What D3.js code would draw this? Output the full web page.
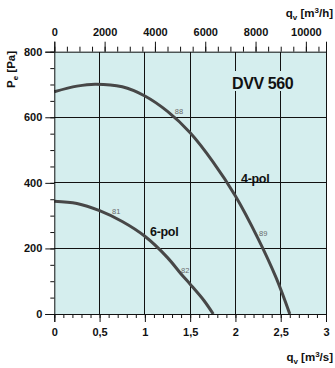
<!DOCTYPE html>
<html>
<head>
<meta charset="utf-8">
<script src="https://cdn.jsdelivr.net/npm/d3@7"></script>
<style>
  html, body { margin: 0; padding: 0; background: #ffffff; }
  svg { display: block; }
  text { font-family: "Liberation Sans", Arial, sans-serif; }
</style>
</head>
<body>
<svg id="chart" width="335" height="368"></svg>
<script>
// Fan curves: flow q [m³/s] vs. static pressure Pe [Pa]
const flow4pol = [0, 0.25, 0.45, 0.75, 1.0, 1.25, 1.5, 1.75, 2.0, 2.25, 2.45, 2.6];
const pres4pol = [678, 695, 701, 693, 665, 618, 553, 465, 360, 230, 110, 0];
const flow6pol = [0, 0.25, 0.5, 0.75, 1.0, 1.25, 1.4, 1.5, 1.65, 1.755];
const pres6pol = [344, 337, 315, 282, 237, 172, 122, 91, 42, 0];

// Efficiency markers along the curves
const markLabels = ["88", "89", "81", "82"];
const markFlow   = [1.33, 2.26, 0.637, 1.40];
const markPres   = [609, 238, 305, 125];

// Axis ticks
const bottomTicks = [0, 0.5, 1, 1.5, 2, 2.5, 3];
const bottomTickLabels = ["0", "0,5", "1", "1,5", "2", "2,5", "3"];
const leftTicks = [0, 200, 400, 600, 800];
const topTicks = [0, 2000, 4000, 6000, 8000, 10000];

const svg = d3.select("#chart");
const plotL = 54.3, plotR = 326, plotT = 51.7, plotB = 314;

const x = d3.scaleLinear().domain([0, 3]).range([plotL, plotR]);
const y = d3.scaleLinear().domain([0, 800]).range([plotB, plotT]);
const xh = d3.scaleLinear().domain([0, 3 * 3600]).range([plotL, plotR]);

const bg = "#d5eeee";
const ink = "#111";

// plot background
svg.append("rect")
  .attr("x", plotL).attr("y", plotT)
  .attr("width", plotR - plotL).attr("height", plotB - plotT)
  .attr("fill", bg);

// grid
const grid = svg.append("g").attr("stroke", ink).attr("stroke-width", 1).attr("shape-rendering", "crispEdges");
grid.selectAll("line.v").data(bottomTicks.filter(d => d > 0)).join("line")
  .attr("x1", d => x(d)).attr("x2", d => x(d))
  .attr("y1", plotT).attr("y2", plotB);
grid.selectAll("line.h").data(leftTicks.filter(d => d > 0 && d < 800)).join("line")
  .attr("x1", plotL).attr("x2", plotR)
  .attr("y1", d => y(d)).attr("y2", d => y(d));

// fan curves
const line = d3.line().x(d => x(d[0])).y(d => y(d[1])).curve(d3.curveCatmullRom.alpha(0.5));
const curve4 = flow4pol.map((q, i) => [q, pres4pol[i]]);
const curve6 = flow6pol.map((q, i) => [q, pres6pol[i]]);
const curveG = svg.append("g").attr("fill", "none").attr("stroke", "#474747").attr("stroke-width", 3);
curveG.append("path").attr("d", line(curve4));
curveG.append("path").attr("d", line(curve6));

// efficiency numbers
svg.append("g").selectAll("text").data(markLabels).join("text")
  .attr("x", (d, i) => x(markFlow[i]))
  .attr("y", (d, i) => y(markPres[i]))
  .attr("font-size", 7.5)
  .attr("fill", "#6a6a6a")
  .text(d => d);

// curve names
const bold = (sel) => sel.attr("font-weight", "bold").attr("fill", ink);
svg.append("text").attr("x", 241).attr("y", 182.5).attr("font-size", 12.5).call(bold)
  .attr("letter-spacing", -0.3).text("4-pol");
svg.append("text").attr("x", 150).attr("y", 236).attr("font-size", 12.5).call(bold)
  .attr("letter-spacing", -0.3).text("6-pol");

// model title with a background patch
svg.append("rect").attr("x", 230).attr("y", 71).attr("width", 70).attr("height", 20).attr("fill", bg);
svg.append("text").attr("x", 232).attr("y", 88.5).attr("font-size", 16).call(bold)
  .attr("letter-spacing", -0.4).text("DVV 560");

// axes
const tickFont = (g) => g.selectAll("text")
  .attr("font-size", 11).attr("font-weight", "bold").attr("fill", ink)
  .attr("font-family", "'Liberation Sans', Arial, sans-serif");

// bottom axis: major ticks every 0.5, minor every 0.1
const bAxis = svg.append("g").attr("transform", `translate(0,${plotB})`);
bAxis.call(d3.axisBottom(x).tickValues(d3.range(0, 3.0001, 0.1)).tickSize(4).tickFormat(""))
  .call(g => g.select(".domain").remove());
bAxis.append("g").call(d3.axisBottom(x).tickValues(bottomTicks).tickSize(8).tickPadding(6)
  .tickFormat((d, i) => bottomTickLabels[i]))
  .call(g => g.select(".domain").attr("stroke", ink))
  .call(tickFont);

// left axis: major every 200, minor every 50
const lAxis = svg.append("g").attr("transform", `translate(${plotL},0)`);
lAxis.call(d3.axisLeft(y).tickValues(d3.range(0, 801, 50)).tickSize(4).tickFormat(""))
  .call(g => g.select(".domain").remove());
lAxis.append("g").call(d3.axisLeft(y).tickValues(leftTicks).tickSize(9).tickPadding(3).tickFormat(d3.format("d")))
  .call(g => g.select(".domain").attr("stroke", ink))
  .call(tickFont);

// top axis in m³/h: major every 2000, minor every 500
const tAxis = svg.append("g").attr("transform", `translate(0,${plotT})`);
tAxis.call(d3.axisTop(xh).tickValues(d3.range(0, 10801, 500)).tickSize(5).tickFormat(""))
  .call(g => g.select(".domain").remove());
tAxis.append("g").call(d3.axisTop(xh).tickValues(topTicks).tickSize(10).tickPadding(6).tickFormat(d3.format("d")))
  .call(g => g.select(".domain").attr("stroke", ink))
  .call(tickFont);

// right border
svg.append("line").attr("x1", plotR).attr("x2", plotR).attr("y1", plotT).attr("y2", plotB)
  .attr("stroke", ink).attr("shape-rendering", "crispEdges");

svg.selectAll(".tick line").attr("stroke", ink);

// axis titles
const title = (sel) => sel.attr("font-size", 11.5).attr("font-weight", "bold").attr("fill", ink);
const tTop = svg.append("text").attr("x", 333).attr("y", 17).attr("text-anchor", "end").call(title);
tTop.append("tspan").text("q");
tTop.append("tspan").attr("dy", 3).attr("font-size", 8).text("v");
tTop.append("tspan").attr("dy", -3).text(" [m");
tTop.append("tspan").attr("dy", -4).attr("font-size", 8).text("3");
tTop.append("tspan").attr("dy", 4).text("/h]");

const tBot = svg.append("text").attr("x", 333).attr("y", 361).attr("text-anchor", "end").call(title);
tBot.append("tspan").text("q");
tBot.append("tspan").attr("dy", 3).attr("font-size", 8).text("v");
tBot.append("tspan").attr("dy", -3).text(" [m");
tBot.append("tspan").attr("dy", -4).attr("font-size", 8).text("3");
tBot.append("tspan").attr("dy", 4).text("/s]");

const tLeft = svg.append("text").attr("transform", "translate(15,88) rotate(-90)").call(title);
tLeft.append("tspan").text("P");
tLeft.append("tspan").attr("dy", 3).attr("font-size", 8).text("e");
tLeft.append("tspan").attr("dy", -3).text(" [Pa]");
</script>
</body>
</html>
